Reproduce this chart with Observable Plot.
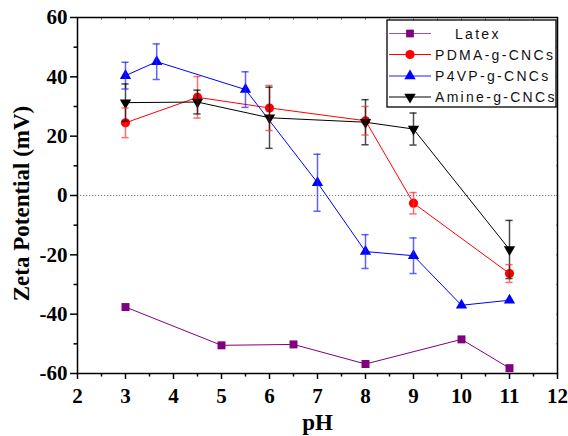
<!DOCTYPE html>
<html>
<head>
<meta charset="utf-8">
<script src="https://cdn.jsdelivr.net/npm/d3@7"></script>
<script src="https://cdn.jsdelivr.net/npm/@observablehq/plot@0.6"></script>
<style>
  html, body { margin: 0; padding: 0; background: #fff; }
  #chart { position: relative; width: 568px; height: 436px; }
</style>
</head>
<body>
<div id="chart"></div>
<script>
// ---- data ----
const seriesNames = ["Latex", "PDMA-g-CNCs", "P4VP-g-CNCs", "Amine-g-CNCs"];

const latexPH = [3, 5, 6.5, 8, 10, 11];
const latexZ  = [-37.6, -50.5, -50.2, -56.8, -48.5, -58.2];

const pdmaPH  = [3, 4.5, 6, 8, 9, 11];
const pdmaZ   = [24.5, 33.1, 29.5, 25.2, -2.6, -26.3];
const pdmaErr = [5, 7, 7.6, 4.8, 3.6, 3];

const p4vpPH  = [3, 3.65, 5.5, 7, 8, 9, 10, 11];
const p4vpZ   = [40.4, 45.1, 35.7, 4.3, -18.9, -20.3, -37, -35.3];
const p4vpErr = [4.5, 6, 6, 9.6, 5.7, 6, 0, 0];

const aminePH  = [3, 4.5, 6, 8, 9, 11];
const amineZ   = [31.3, 31.5, 26.2, 24.7, 22.4, -18.2];
const amineErr = [6.3, 4, 10.3, 7.6, 5.4, 9.8];

const xTicks = [2, 3, 4, 5, 6, 7, 8, 9, 10, 11, 12];
const yTicks = [-60, -40, -20, 0, 20, 40, 60];
const xLabel = "pH";
const yLabel = "Zeta Potential (mV)";

// ---- build tables ----
const colors = { "Latex": "#800080", "PDMA-g-CNCs": "#ff0000", "P4VP-g-CNCs": "#0000ff", "Amine-g-CNCs": "#000000" };
const barColors = { "PDMA-g-CNCs": "#ff3030", "P4VP-g-CNCs": "#2020ff", "Amine-g-CNCs": "#000000" };

function rows(name, xs, ys, es) {
  return xs.map((x, i) => ({ series: name, ph: x, z: ys[i], err: es ? es[i] : 0 }));
}
const latex = rows("Latex", latexPH, latexZ);
const pdma = rows("PDMA-g-CNCs", pdmaPH, pdmaZ, pdmaErr);
const p4vp = rows("P4VP-g-CNCs", p4vpPH, p4vpZ, p4vpErr);
const amine = rows("Amine-g-CNCs", aminePH, amineZ, amineErr);
const withErr = [...pdma, ...p4vp, ...amine].filter(d => d.err > 0);

const triangleDown = {
  draw(context, size) {
    const y = Math.sqrt(size / (Math.sqrt(3) * 3));
    context.moveTo(0, y * 2);
    context.lineTo(-Math.sqrt(3) * y, -y);
    context.lineTo(Math.sqrt(3) * y, -y);
    context.closePath();
  }
};

const serif = "'Liberation Serif', 'Times New Roman', serif";
const capHalf = 0.075;
const minorX = d3.range(2.5, 12, 1);
const minorY = d3.range(-50, 60, 20);
const topTicks = d3.range(2.5, 12, 0.5);
const rightTicks = d3.range(-50, 60, 10);
const fmt = d => String(d);

const plot = Plot.plot({
  width: 568,
  height: 436,
  marginLeft: 77,
  marginRight: 11,
  marginTop: 17,
  marginBottom: 63,
  style: { fontFamily: serif, fontSize: "20px", fontWeight: "bold", background: "#fff", color: "#000" },
  x: { domain: [2, 12] },
  y: { domain: [-60, 60] },
  marks: [
    Plot.ruleY([0], { stroke: "#777", strokeDasharray: "1.2,1.8", strokeWidth: 1 }),
    // lines
    Plot.line(latex, { x: "ph", y: "z", stroke: colors["Latex"], strokeWidth: 1 }),
    Plot.line(pdma, { x: "ph", y: "z", stroke: colors["PDMA-g-CNCs"], strokeWidth: 1 }),
    Plot.line(p4vp, { x: "ph", y: "z", stroke: colors["P4VP-g-CNCs"], strokeWidth: 1 }),
    Plot.line(amine, { x: "ph", y: "z", stroke: colors["Amine-g-CNCs"], strokeWidth: 1 }),
    // markers
    Plot.dot(latex, { x: "ph", y: "z", symbol: "square", r: 4.5, fill: colors["Latex"], stroke: "none" }),
    Plot.dot(pdma, { x: "ph", y: "z", symbol: "circle", r: 4.6, fill: colors["PDMA-g-CNCs"], stroke: "none" }),
    Plot.dot(p4vp, { x: "ph", y: "z", symbol: "triangle", r: 4.2, fill: colors["P4VP-g-CNCs"], stroke: "none" }),
    Plot.dot(amine, { x: "ph", y: "z", symbol: triangleDown, r: 4.2, fill: colors["Amine-g-CNCs"], stroke: "none" }),
    // error bars
    Plot.ruleX(withErr, { x: "ph", y1: d => d.z - d.err, y2: d => d.z + d.err, stroke: d => barColors[d.series], strokeOpacity: 0.7, strokeWidth: 1.5 }),
    Plot.ruleY(withErr, { y: d => d.z + d.err, x1: d => d.ph - capHalf, x2: d => d.ph + capHalf, stroke: d => barColors[d.series], strokeOpacity: 0.7, strokeWidth: 1.5 }),
    Plot.ruleY(withErr, { y: d => d.z - d.err, x1: d => d.ph - capHalf, x2: d => d.ph + capHalf, stroke: d => barColors[d.series], strokeOpacity: 0.7, strokeWidth: 1.5 }),
    // axes
    Plot.axisX({ ticks: xTicks, tickSize: 6, tickPadding: 9, tickFormat: fmt, label: null, fontFamily: serif, fontSize: 21, fontWeight: "bold", strokeWidth: 1.5 }),
    Plot.axisX({ ticks: minorX, tickSize: 3.5, text: null, label: null, strokeWidth: 1.5 }),
    Plot.axisY({ ticks: yTicks, tickSize: 7, tickPadding: 3, tickFormat: fmt, label: null, fontFamily: serif, fontSize: 21, fontWeight: "bold", strokeWidth: 1.5 }),
    Plot.axisY({ ticks: minorY, tickSize: 3.5, text: null, label: null, strokeWidth: 1.5 }),
    Plot.axisX({ anchor: "top", ticks: topTicks, tickSize: -2, text: null, label: null, stroke: "#888" }),
    Plot.axisY({ anchor: "right", ticks: rightTicks, tickSize: -2, text: null, label: null, stroke: "#888" }),
    Plot.frame({ stroke: "#000", strokeWidth: 1.5 }),
    // axis titles
    Plot.text([xLabel], { frameAnchor: "bottom", dy: 49, text: d => d, fontFamily: serif, fontSize: 23, fontWeight: "bold", lineAnchor: "middle", textAnchor: "middle" }),
    Plot.text([yLabel], { frameAnchor: "left", dx: -56, dy: 8, rotate: -90, text: d => d, fontFamily: serif, fontSize: 23, fontWeight: "bold", lineAnchor: "middle", textAnchor: "middle" })
  ]
});

document.getElementById("chart").appendChild(plot);

// ---- legend (drawn into the same SVG) ----
const svg = d3.select(plot);
const lg = svg.append("g").attr("class", "legend").attr("text-anchor", "start");
const box = { x: 387, y: 20, w: 169, h: 87 };
lg.append("rect").attr("x", box.x).attr("y", box.y).attr("width", box.w).attr("height", box.h)
  .attr("fill", "#fff").attr("stroke", "#000").attr("stroke-width", 1.3);
const legendLine = { "Latex": "#a050a8", "PDMA-g-CNCs": "#ff0000", "P4VP-g-CNCs": "#2020ff", "Amine-g-CNCs": "#000000" };
const legendSym = { "Latex": d3.symbolSquare, "PDMA-g-CNCs": d3.symbolCircle, "P4VP-g-CNCs": d3.symbolTriangle, "Amine-g-CNCs": triangleDown };
const rowY = [33.5, 54.5, 76, 97];
seriesNames.forEach((name, i) => {
  const y = rowY[i];
  lg.append("line").attr("x1", 389).attr("x2", 431).attr("y1", y).attr("y2", y)
    .attr("stroke", legendLine[name]).attr("stroke-width", 1.2);
  lg.append("path").attr("d", d3.symbol(legendSym[name], name === "PDMA-g-CNCs" ? 66 : name === "Latex" ? 60 : 56)())
    .attr("transform", `translate(410,${y})`).attr("fill", colors[name]);
  lg.append("text").attr("x", name === "Latex" ? 455 : 435).attr("y", y).attr("dy", "0.36em")
    .attr("text-anchor", "start")
    .attr("font-family", "'Liberation Sans', Arial, sans-serif").attr("font-size", 14)
    .attr("font-weight", "normal").attr("letter-spacing", "2.3px").attr("fill", "#111")
    .text(name);
});
</script>
</body>
</html>
